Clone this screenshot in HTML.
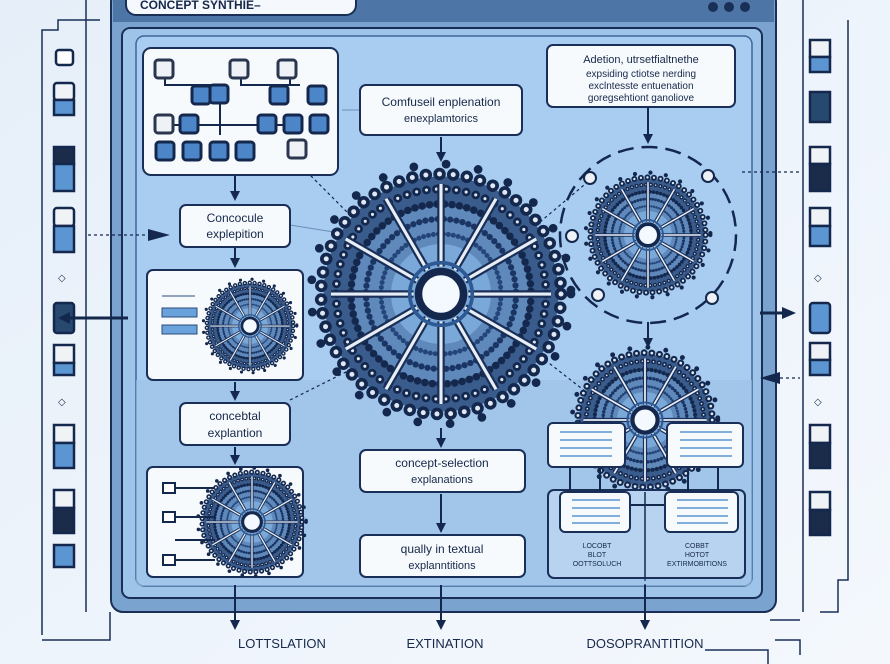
<!DOCTYPE html>
<html><head><meta charset="utf-8"><style>
html,body{margin:0;padding:0;width:890px;height:664px;overflow:hidden;background:#eef4fb}
svg{display:block}
text{font-family:"Liberation Sans",sans-serif;fill:#16284a}
</style></head><body>
<svg width="890" height="664" viewBox="0 0 890 664">
<defs>
<linearGradient id="bg" x1="0" y1="0" x2="1" y2="1"><stop offset="0" stop-color="#e6eff9"/><stop offset="1" stop-color="#f4f8fd"/></linearGradient>
<g id="spoke"><line x1="0" y1="-22" x2="0" y2="-88" stroke="#1a2f58" stroke-width="6"/><line x1="0" y1="-22" x2="0" y2="-88" stroke="#e8eef6" stroke-width="2.5"/></g>
<g id="mand">
 <circle r="94" fill="#3a5c8c"/>
 <circle r="70" fill="#5f89bb"/>
 <circle r="40" fill="#7aa8d8"/>
 <circle r="96" fill="none" stroke="#14284e" stroke-width="10" stroke-dasharray="0 11" stroke-linecap="round"/>
 <circle r="96" fill="none" stroke="#dfe8f3" stroke-width="4" stroke-dasharray="0 11" stroke-linecap="round"/>
 <circle r="84" fill="none" stroke="#14284e" stroke-width="7" stroke-dasharray="0 8" stroke-linecap="round"/>
 <circle r="84" fill="none" stroke="#dfe8f3" stroke-width="2.5" stroke-dasharray="0 8" stroke-linecap="round"/>
 <circle r="72" fill="none" stroke="#14284e" stroke-width="6" stroke-dasharray="0 6" stroke-linecap="round"/>
 <circle r="60" fill="none" stroke="#1a3563" stroke-width="5" stroke-dasharray="0 5" stroke-linecap="round"/>
 <circle r="48" fill="none" stroke="#24457a" stroke-width="4" stroke-dasharray="0 4" stroke-linecap="round"/>
 <circle r="104" fill="none" stroke="#14284e" stroke-width="7" stroke-dasharray="0 26" stroke-linecap="round"/>
 <use href="#spoke"/><use href="#spoke" transform="rotate(30)"/><use href="#spoke" transform="rotate(60)"/><use href="#spoke" transform="rotate(90)"/><use href="#spoke" transform="rotate(120)"/><use href="#spoke" transform="rotate(150)"/><use href="#spoke" transform="rotate(180)"/><use href="#spoke" transform="rotate(210)"/><use href="#spoke" transform="rotate(240)"/><use href="#spoke" transform="rotate(270)"/><use href="#spoke" transform="rotate(300)"/><use href="#spoke" transform="rotate(330)"/>
 <circle r="18" fill="#f4f9ff" stroke="#14284e" stroke-width="6"/>
 <circle r="25" fill="none" stroke="#2d5a94" stroke-width="3"/>
</g>
<g id="sq"><rect x="0" y="0" width="18" height="18" rx="3" fill="#4c86c8" stroke="#14284e" stroke-width="3"/></g>
<g id="sqw"><rect x="0" y="0" width="18" height="18" rx="3" fill="#eef2f6" stroke="#2a3550" stroke-width="3"/></g>
<marker id="ar" viewBox="0 0 10 10" refX="8" refY="5" markerWidth="5" markerHeight="5" orient="auto"><path d="M0,0L10,5L0,10z" fill="#14284e"/></marker>
</defs>
<rect width="890" height="664" fill="url(#bg)"/>

<path d="M86,0V612 M42,635V30H58V20H100" fill="none" stroke="#1a2f58" stroke-width="1.5"/>
<path d="M42,640H110V612" fill="none" stroke="#1a2f58" stroke-width="1.5"/>
<g stroke="#14284e" stroke-width="2.5">
<rect x="56" y="50" width="17" height="15" rx="3" fill="#fff"/>
<rect x="54" y="83" width="20" height="17" rx="3" fill="#f0f3f6"/><rect x="54" y="100" width="20" height="15" fill="#5b95d2"/>
<rect x="54" y="147" width="20" height="17" fill="#1b2c4a"/><rect x="54" y="164" width="20" height="27" fill="#5b95d2"/>
<rect x="54" y="208" width="20" height="18" rx="3" fill="#f0f3f6"/><rect x="54" y="226" width="20" height="26" fill="#5b95d2"/>
<rect x="54" y="303" width="20" height="30" rx="3" fill="#27496f"/>
<rect x="54" y="345" width="20" height="18" fill="#f0f3f6"/><rect x="54" y="363" width="20" height="12" fill="#5b95d2"/>
<rect x="54" y="425" width="20" height="18" fill="#f0f3f6"/><rect x="54" y="443" width="20" height="25" fill="#5b95d2"/>
<rect x="54" y="490" width="20" height="18" fill="#f0f3f6"/><rect x="54" y="508" width="20" height="25" fill="#1b2c4a"/>
<rect x="54" y="545" width="20" height="22" fill="#5b95d2"/>
</g>
<text x="58" y="281" font-size="10" fill="#4a78b0">◇</text>
<text x="58" y="405" font-size="10" fill="#4a78b0">◇</text>

<path d="M803,0V612 M848,20V580H838V612H820" fill="none" stroke="#1a2f58" stroke-width="1.5"/>
<path d="M775,640H800V655 M770,620H800" fill="none" stroke="#1a2f58" stroke-width="1.5"/>
<g stroke="#14284e" stroke-width="2.5">
<rect x="810" y="40" width="20" height="17" fill="#f0f3f6"/><rect x="810" y="57" width="20" height="15" fill="#5b95d2"/>
<rect x="810" y="92" width="20" height="30" fill="#27496f"/>
<rect x="810" y="147" width="20" height="17" fill="#f0f3f6"/><rect x="810" y="164" width="20" height="27" fill="#1b2c4a"/>
<rect x="810" y="208" width="20" height="18" fill="#f0f3f6"/><rect x="810" y="226" width="20" height="20" fill="#5b95d2"/>
<rect x="810" y="303" width="20" height="30" rx="3" fill="#5b95d2"/>
<rect x="810" y="343" width="20" height="17" fill="#f0f3f6"/><rect x="810" y="360" width="20" height="15" fill="#5b95d2"/>
<rect x="810" y="425" width="20" height="18" fill="#f0f3f6"/><rect x="810" y="443" width="20" height="25" fill="#1b2c4a"/>
<rect x="810" y="492" width="20" height="18" fill="#f0f3f6"/><rect x="810" y="510" width="20" height="25" fill="#1b2c4a"/>
</g>
<text x="814" y="281" font-size="10" fill="#4a78b0">◇</text>
<text x="814" y="405" font-size="10" fill="#4a78b0">◇</text>

<rect x="111" y="-10" width="665" height="622" rx="12" fill="#7aa3cf" stroke="#1a2f58" stroke-width="2"/>
<rect x="113" y="0" width="661" height="22" fill="#4d76a6"/>
<rect x="126" y="-10" width="230" height="25" rx="10" fill="#f5f8fc" stroke="#1a2f58" stroke-width="2"/>
<text x="140" y="9" font-size="12" font-weight="bold">CONCEPT SYNTHIE–</text>
<circle cx="713" cy="7" r="5" fill="#1a2f58"/><circle cx="729" cy="7" r="5" fill="#1a2f58"/><circle cx="745" cy="7" r="5" fill="#1a2f58"/>
<rect x="122" y="28" width="640" height="570" rx="8" fill="#9fc4ea" stroke="#1a2f58" stroke-width="2"/>
<rect x="136" y="36" width="616" height="550" rx="8" fill="#a9cdf0" stroke="#3f6698" stroke-width="1.5"/>
<rect x="136" y="380" width="616" height="206" fill="#9dc1e6" opacity=".6"/>

<g stroke="#14284e" stroke-width="2" fill="none" marker-end="url(#ar)">
<line x1="235" y1="176" x2="235" y2="199"/>
<line x1="235" y1="248" x2="235" y2="266"/>
<line x1="235" y1="382" x2="235" y2="399"/>
<line x1="235" y1="447" x2="235" y2="463"/>
<line x1="441" y1="137" x2="441" y2="160"/>
<line x1="441" y1="428" x2="441" y2="446"/>
<line x1="441" y1="494" x2="441" y2="531"/>
<line x1="648" y1="108" x2="648" y2="142"/>
<line x1="648" y1="322" x2="648" y2="346"/>
<line x1="441" y1="585" x2="441" y2="628"/>
<line x1="235" y1="585" x2="235" y2="628"/>
<line x1="645" y1="585" x2="645" y2="628"/>
</g>
<g stroke="#14284e" stroke-width="1.2" fill="none" stroke-dasharray="3 3">
<line x1="88" y1="235" x2="150" y2="235"/>
<line x1="768" y1="378" x2="800" y2="378"/>
<line x1="742" y1="172" x2="800" y2="172"/>
<line x1="298" y1="163" x2="360" y2="225"/>
<line x1="290" y1="400" x2="350" y2="370"/>
<line x1="540" y1="222" x2="590" y2="180"/>
<line x1="545" y1="360" x2="590" y2="395"/>
<line x1="645" y1="530" x2="645" y2="585"/>
</g>
<path d="M148,229L170,235L148,241z" fill="#14284e"/>
<path d="M780,372L760,378L780,384z" fill="#14284e"/>
<line x1="66" y1="318" x2="128" y2="318" stroke="#14284e" stroke-width="3"/>
<path d="M70,312L58,318L70,324z" fill="#14284e"/>
<line x1="760" y1="313" x2="790" y2="313" stroke="#14284e" stroke-width="3"/>
<path d="M782,307L796,313L782,319z" fill="#14284e"/>
<line x1="290" y1="225" x2="340" y2="233" stroke="#6b8fb8" stroke-width="1"/>
<line x1="342" y1="110" x2="360" y2="110" stroke="#6b8fb8" stroke-width="1"/>

<rect x="143" y="48" width="195" height="127" rx="8" fill="#f7fafd" stroke="#1a2f58" stroke-width="2"/>
<g stroke="#14284e" stroke-width="2" fill="none">
<path d="M165,70V85H225 M241,70V85H300 M290,70V85 M220,95V135 M170,125H300 M190,125V120"/>
</g>
<use href="#sqw" x="155" y="60"/><use href="#sqw" x="230" y="60"/><use href="#sqw" x="278" y="60"/>
<use href="#sq" x="192" y="86"/><use href="#sq" x="210" y="85"/><use href="#sq" x="270" y="86"/><use href="#sq" x="308" y="86"/>
<use href="#sqw" x="155" y="115"/><use href="#sq" x="180" y="115"/><use href="#sq" x="258" y="115"/><use href="#sq" x="284" y="115"/><use href="#sq" x="310" y="115"/>
<use href="#sq" x="156" y="142"/><use href="#sq" x="183" y="142"/><use href="#sq" x="210" y="142"/><use href="#sq" x="236" y="142"/>
<use href="#sqw" x="288" y="140"/>

<rect x="180" y="205" width="110" height="42" rx="6" fill="#f7fafd" stroke="#1a2f58" stroke-width="2"/>
<text x="235" y="222" font-size="12" text-anchor="middle">Concocule</text>
<text x="235" y="238" font-size="12" text-anchor="middle">explepition</text>
<rect x="147" y="270" width="156" height="110" rx="6" fill="#f7fafd" stroke="#1a2f58" stroke-width="2"/>
<use href="#mand" transform="translate(250,326) scale(0.45)"/>
<rect x="162" y="308" width="35" height="9" fill="#6aa2dc" stroke="#2a4a7a"/>
<rect x="162" y="325" width="35" height="9" fill="#6aa2dc" stroke="#2a4a7a"/>
<line x1="162" y1="296" x2="195" y2="296" stroke="#2a4a7a"/>
<rect x="180" y="403" width="110" height="42" rx="6" fill="#f7fafd" stroke="#1a2f58" stroke-width="2"/>
<text x="235" y="420" font-size="12" text-anchor="middle">concebtal</text>
<text x="235" y="437" font-size="12" text-anchor="middle">explantion</text>
<rect x="147" y="467" width="156" height="110" rx="6" fill="#f7fafd" stroke="#1a2f58" stroke-width="2"/>
<use href="#mand" transform="translate(252,522) scale(0.52)"/>
<g stroke="#14284e" stroke-width="2" fill="#fff"><rect x="163" y="483" width="12" height="10"/><rect x="163" y="512" width="12" height="10"/><rect x="163" y="555" width="12" height="10"/>
<path d="M175,488H215 M175,517H215 M175,540H215 M175,560H215" fill="none"/></g>

<rect x="360" y="85" width="162" height="50" rx="6" fill="#f7fafd" stroke="#1a2f58" stroke-width="2"/>
<text x="441" y="106" font-size="12" text-anchor="middle">Comfuseil enplenation</text>
<text x="441" y="122" font-size="11" text-anchor="middle">enexplamtorics</text>
<use href="#mand" transform="translate(441,294) scale(1.25)"/>
<rect x="360" y="450" width="165" height="42" rx="6" fill="#f7fafd" stroke="#1a2f58" stroke-width="2"/>
<text x="442" y="467" font-size="12" text-anchor="middle">concept-selection</text>
<text x="442" y="483" font-size="11" text-anchor="middle">explanations</text>
<rect x="360" y="535" width="165" height="42" rx="6" fill="#f7fafd" stroke="#1a2f58" stroke-width="2"/>
<text x="442" y="553" font-size="12" text-anchor="middle">qually in textual</text>
<text x="442" y="569" font-size="11" text-anchor="middle">explanntitions</text>

<rect x="547" y="45" width="188" height="62" rx="6" fill="#f7fafd" stroke="#1a2f58" stroke-width="2"/>
<text x="641" y="63" font-size="11" text-anchor="middle">Adetion, utrsetfialtnethe</text>
<text x="641" y="77" font-size="10" text-anchor="middle">expsiding ctiotse nerding</text>
<text x="641" y="89" font-size="10" text-anchor="middle">exclntesste entuenation</text>
<text x="641" y="101" font-size="10" text-anchor="middle">goregsehtiont ganoliove</text>
<circle cx="648" cy="235" r="88" fill="none" stroke="#14284e" stroke-width="2.5" stroke-dasharray="16 8"/>
<use href="#mand" transform="translate(648,235) scale(0.6)"/>
<g fill="#eef2f6" stroke="#14284e" stroke-width="2"><circle cx="590" cy="178" r="6"/><circle cx="572" cy="236" r="6"/><circle cx="598" cy="295" r="6"/><circle cx="708" cy="176" r="6"/><circle cx="712" cy="298" r="6"/></g>
<use href="#mand" transform="translate(645,420) scale(0.7)"/>
<rect x="548" y="490" width="197" height="88" rx="6" fill="#b7d3ef" stroke="#1a2f58" stroke-width="2"/>
<line x1="645" y1="492" x2="645" y2="578" stroke="#14284e" stroke-width="1.5"/>
<g stroke="#14284e" stroke-width="2" fill="none"><path d="M570,465V495 M600,465V495 M688,465V495 M718,465V495 M575,505H680"/></g>
<g fill="#f7fafd" stroke="#1a2f58" stroke-width="2">
<rect x="548" y="423" width="77" height="44" rx="5"/><rect x="667" y="423" width="76" height="44" rx="5"/>
<rect x="560" y="492" width="70" height="40" rx="5"/><rect x="665" y="492" width="73" height="40" rx="5"/>
</g>
<g stroke="#5b95d2" stroke-width="1.5"><path d="M560,432H612M560,440H612M560,448H612M560,456H612 M680,432H732M680,440H732M680,448H732M680,456H732 M572,500H620M572,508H620M572,516H620M572,523H620 M677,500H728M677,508H728M677,516H728M677,523H728"/></g>
<text x="597" y="548" font-size="7" text-anchor="middle" fill="#3a5680">LOCOBT</text>
<text x="597" y="557" font-size="7" text-anchor="middle" fill="#3a5680">BLOT</text>
<text x="597" y="566" font-size="7" text-anchor="middle" fill="#3a5680">OOTTSOLUCH</text>
<text x="697" y="548" font-size="7" text-anchor="middle" fill="#3a5680">COBBT</text>
<text x="697" y="557" font-size="7" text-anchor="middle" fill="#3a5680">HOTOT</text>
<text x="697" y="566" font-size="7" text-anchor="middle" fill="#3a5680">EXTIRMOBITIONS</text>

<text x="282" y="648" font-size="13" text-anchor="middle">LOTTSLATION</text>
<text x="445" y="648" font-size="13" text-anchor="middle">EXTINATION</text>
<text x="645" y="648" font-size="13" text-anchor="middle">DOSOPRANTITION</text>
<path d="M705,650H768V664" fill="none" stroke="#1a2f58" stroke-width="1.5"/>
</svg>
</body></html>
